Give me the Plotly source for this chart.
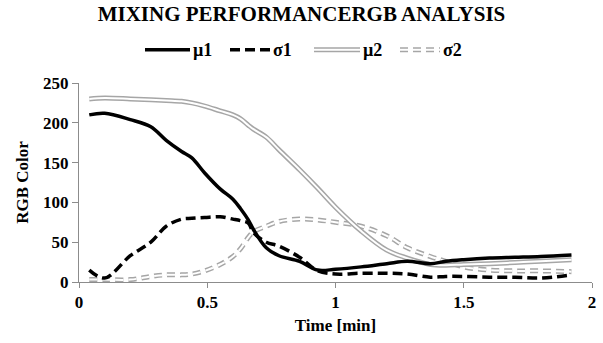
import plotly.graph_objects as go

time_min = [0.04, 0.1, 0.2, 0.28, 0.34, 0.4, 0.44, 0.49, 0.55, 0.6, 0.63, 0.66, 0.68, 0.73,
            0.78, 0.86, 0.93, 1.0, 1.1, 1.2, 1.28, 1.37, 1.43, 1.5, 1.6, 1.7, 1.8, 1.92]
mu1 = [210, 212, 204, 195, 178, 164, 156, 137, 117, 104, 92, 78, 66, 43,
       33, 26, 15, 16, 19, 23, 26, 23, 26, 28, 30, 31, 32, 34]
sigma1 = [15, 5, 33, 50, 70, 79, 80, 81, 82, 79, 77, 74, 62, 50,
          45, 31, 14, 10, 11, 11, 10, 6, 7, 7, 6, 6, 5, 9]
mu2 = [230, 231, 230, 229, 228, 227, 225, 221, 215, 210, 205, 197, 192, 182,
       166, 141, 118, 94, 64, 40, 30, 22, 21, 22, 23, 24.5, 26, 28]
sigma2 = [3, 3, 3, 7, 9, 9, 10, 14, 22, 32, 42, 56, 63, 70,
          76, 79, 78, 75, 70, 58, 43, 32, 26, 19, 15, 14, 14, 13]

x_ticks = [0, 0.5, 1, 1.5, 2]
y_ticks = [0, 50, 100, 150, 200, 250]

FONT = "Liberation Serif"
GRAY = "#a6a6a6"

fig = go.Figure()
# hollow (double) lines: gray wide line + white narrow line
fig.add_trace(go.Scatter(x=time_min, y=sigma2, mode="lines", line=dict(color=GRAY, width=5, dash="8px,5px", shape="spline"), showlegend=False))
fig.add_trace(go.Scatter(x=time_min, y=sigma2, mode="lines", line=dict(color="white", width=2, dash="8px,5px", shape="spline"), showlegend=False))
fig.add_trace(go.Scatter(x=time_min, y=mu2, mode="lines", line=dict(color=GRAY, width=5, shape="spline"), showlegend=False))
fig.add_trace(go.Scatter(x=time_min, y=mu2, mode="lines", line=dict(color="white", width=2, shape="spline"), showlegend=False))
fig.add_trace(go.Scatter(x=time_min, y=sigma1, mode="lines", line=dict(color="black", width=3.5, dash="10px,5px", shape="spline"), showlegend=False))
fig.add_trace(go.Scatter(x=time_min, y=mu1, mode="lines", line=dict(color="black", width=3.5, shape="spline"), showlegend=False))

# manual legend (paper coordinates derived from pixel positions)
PL, PW, PB, PH = 79, 513, 282, 198
ly = (PB - 51) / PH
def px(p):
    return (p - PL) / PW
legend_items = [
    (145, 190, "black", 3.5, None, None, "µ1"),
    (230, 270, "black", 3.5, "10px,5px", None, "σ1"),
    (314, 360, GRAY, 5, None, "white", "µ2"),
    (400, 440, GRAY, 5, "8px,5px", "white", "σ2"),
]
shapes = []
annotations = []
for x0, x1, col, w, dash, inner, label in legend_items:
    shapes.append(dict(type="line", xref="paper", yref="paper", x0=px(x0), x1=px(x1), y0=ly, y1=ly,
                       line=dict(color=col, width=w, dash=dash)))
    if inner:
        shapes.append(dict(type="line", xref="paper", yref="paper", x0=px(x0), x1=px(x1), y0=ly, y1=ly,
                           line=dict(color=inner, width=2, dash=dash)))
    annotations.append(dict(xref="paper", yref="paper", x=px(x1 + 1), y=ly, text=f"<b>{label}</b>", showarrow=False,
                            xanchor="left", yanchor="middle",
                            font=dict(family=FONT, size=18, color="black")))

fig.update_layout(
    width=603, height=343,
    margin=dict(l=PL, r=603 - PL - PW, t=83, b=343 - PB, autoexpand=False),
    paper_bgcolor="white", plot_bgcolor="white",
    title=dict(text="<b>MIXING PERFORMANCERGB ANALYSIS</b>", x=0.5, xanchor="center", y=1 - 14 / 343, yanchor="middle",
               font=dict(family=FONT, size=21, color="black")),
    shapes=shapes, annotations=annotations,
    font=dict(family=FONT, color="black"),
)
fig.update_xaxes(range=[0, 2], tickvals=x_ticks, ticktext=[f"<b>{v:g}</b>" for v in x_ticks],
                 showgrid=False, zeroline=False, showline=True, linecolor="#8c8c8c", linewidth=1,
                 ticks="outside", ticklen=5, tickcolor="#8c8c8c", automargin=False,
                 tickfont=dict(family=FONT, size=17, color="black"),
                 title=dict(text="<b>Time [min]</b>", font=dict(family=FONT, size=17, color="black"), standoff=7))
fig.update_yaxes(range=[0, 250], tickvals=y_ticks, ticktext=[f"<b>{v}</b>" for v in y_ticks],
                 showgrid=False, zeroline=False, showline=True, linecolor="#8c8c8c", linewidth=1,
                 ticks="outside", ticklen=6, tickcolor="#8c8c8c", automargin=False,
                 tickfont=dict(family=FONT, size=17, color="black"),
                 title=dict(text="<b>RGB Color</b>", font=dict(family=FONT, size=17, color="black"), standoff=10))

fig.write_html("out.html", config={"displayModeBar": False},
               post_script="document.body.style.margin='0';document.body.style.padding='0';")
